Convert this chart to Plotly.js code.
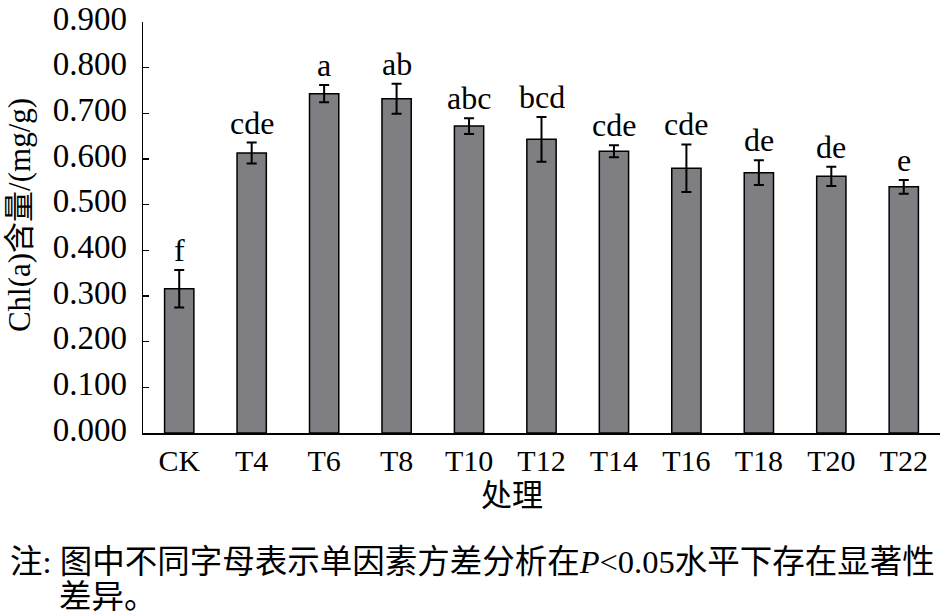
<!DOCTYPE html>
<html>
<head>
<meta charset="utf-8">
<script src="https://cdn.plot.ly/plotly-3.0.1.min.js"></script>
<style>html,body{margin:0;padding:0;background:#fff;}#chart{width:942px;height:614px;}</style>
</head>
<body>
<div id="chart"></div>
<script>
const categories = ['CK','T4','T6','T8','T10','T12','T14','T16','T18','T20','T22'];
const chlA = [0.316,0.613,0.743,0.732,0.672,0.643,0.617,0.580,0.570,0.562,0.539];
const errs = [0.041,0.023,0.019,0.033,0.017,0.049,0.013,0.052,0.027,0.021,0.015];
const letters = ['f','cde','a','ab','abc','bcd','cde','cde','de','de','e'];
const yTicks = [0,0.1,0.2,0.3,0.4,0.5,0.6,0.7,0.8,0.9];

const FONT = "Liberation Serif, Noto Sans CJK SC, serif";
const PH = 411; // plot height in px (for paper-coordinate placement of notes)

const trace = {
  type: 'bar',
  x: categories,
  y: chlA,
  marker: {color: '#7f7f83', line: {color: '#000', width: 1.5}},
  error_y: {type: 'data', array: errs, visible: true, color: '#000', thickness: 2, width: 5},
  hoverinfo: 'x+y'
};

const annotations = categories.map((c, i) => ({
  x: c, y: chlA[i] + errs[i], xref: 'x', yref: 'y',
  text: letters[i], showarrow: false, yanchor: 'bottom', yshift: 0,
  font: {family: FONT, size: 32, color: '#000'}
}));

annotations.push({
  xref: 'paper', yref: 'paper', x: (19 - 143) / 797.5, y: (433 - 215) / PH,
  text: 'Chl(a)含量/(mg/g)', textangle: -90, showarrow: false,
  xanchor: 'center', yanchor: 'middle',
  font: {family: FONT, size: 31, color: '#000'}
});
annotations.push({
  xref: 'paper', yref: 'paper', x: (512 - 143) / 797.5, y: (433 - 496) / PH,
  text: '处理', showarrow: false, xanchor: 'center', yanchor: 'middle',
  font: {family: FONT, size: 31, color: '#000'}
});
annotations.push({
  xref: 'paper', yref: 'paper', x: (8 - 143) / 797.5, y: (433 - 562) / PH,
  text: '注: 图中不同字母表示单因素方差分析在<i>P</i><0.05水平下存在显著性', showarrow: false,
  xanchor: 'left', yanchor: 'middle',
  font: {family: FONT, size: 32.5, color: '#000'}
});
annotations.push({
  xref: 'paper', yref: 'paper', x: (57 - 143) / 797.5, y: (433 - 597) / PH,
  text: '差异。', showarrow: false, xanchor: 'left', yanchor: 'middle',
  font: {family: FONT, size: 32.5, color: '#000'}
});

const layout = {
  width: 942, height: 614,
  margin: {l: 143, r: 2, t: 22, b: 181},
  paper_bgcolor: '#fff', plot_bgcolor: '#fff',
  showlegend: false,
  bargap: 0.596,
  xaxis: {
    type: 'category', showline: true, linecolor: '#000', linewidth: 1.5,
    ticks: '', showgrid: false, zeroline: false,
    tickfont: {family: FONT, size: 30, color: '#000'}
  },
  yaxis: {
    range: [0, 0.9], tickvals: yTicks, tickformat: '.3f',
    showline: true, linecolor: '#000', linewidth: 1.5,
    ticks: 'inside', ticklen: 6, tickwidth: 1.5, tickcolor: '#000',
    showgrid: false, zeroline: false, ticklabelshift: -4, ticklabelstandoff: 8,
    ticklabeloverflow: 'allow',
    tickfont: {family: FONT, size: 33, color: '#000'}
  },
  annotations: annotations
};

Plotly.newPlot('chart', [trace], layout, {displayModeBar: false, staticPlot: true});
</script>
</body>
</html>
